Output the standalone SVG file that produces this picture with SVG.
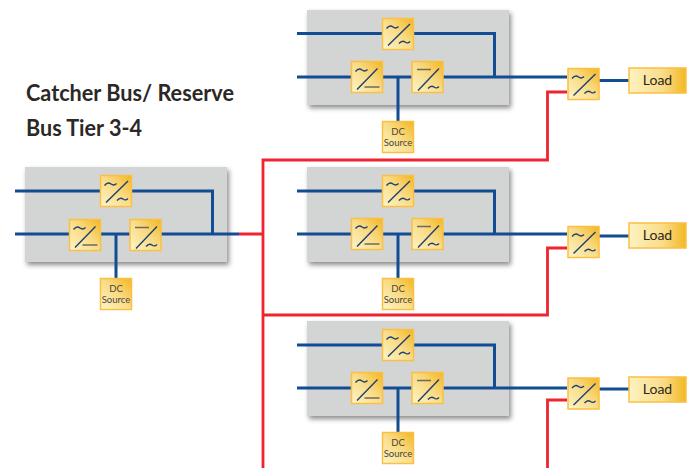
<svg xmlns="http://www.w3.org/2000/svg" xmlns:xlink="http://www.w3.org/1999/xlink" width="695" height="468" viewBox="0 0 695 468">
<style>
.b{fill:none;stroke:#124c92;stroke-width:3}
.r{fill:none;stroke:#ee2430;stroke-width:2.800}
.g{fill:url(#yg);stroke:#fac043;stroke-width:1.500}
.s{fill:none;stroke:#1d3f73;stroke-width:1.400}
.d{fill:none;stroke:#6d6a5c;stroke-width:1.500}
.p{fill:#d3d4d4;filter:url(#sh)}
.t{font-family:Lato,"Liberation Sans",sans-serif;fill:#4a4538}
.dc{font-size:9.500px;text-anchor:middle}
.l{font-size:14px;text-anchor:middle;fill:#2a261c}
.h{font-family:Lato,"Liberation Sans",sans-serif;font-size:22.500px;font-weight:700;fill:#2b2826}
</style>
<defs>
<linearGradient id="yg" x1="0" y1="1" x2="1" y2="0"><stop offset="0" stop-color="#fdf5c8"/><stop offset=".55" stop-color="#f9da82"/><stop offset="1" stop-color="#f3b61f"/></linearGradient>
<linearGradient id="yl" x1="0" y1="0" x2="1" y2="0"><stop offset="0" stop-color="#fdf2c0"/><stop offset=".6" stop-color="#f9dc88"/><stop offset="1" stop-color="#f3b823"/></linearGradient>
<filter id="sh" x="-10%" y="-10%" width="125%" height="130%"><feDropShadow dx="2" dy="3" stdDeviation="2.500" flood-color="#000" flood-opacity=".45"/></filter>
<g id="aa"><rect class="g" width="31" height="31"/><path class="s" d="M5.500 27L27.500 5.500M4 10c2.500-3 4.500-3 6.500-1.500s3.500 1.500 5.500-.5M16.500 25c2.500-3 4-3 6-1.500s3 1.500 5 -.5"/></g>
<g id="ad"><rect class="g" width="31" height="31"/><path class="s" d="M5.500 28L26 7M4 10c2.500-3 4.500-3 6.500-1.500s3.500 1.500 5.500-.5"/><path class="d" d="M13 25.500H28"/></g>
<g id="da"><rect class="g" width="31" height="31"/><path class="s" d="M6 29L27 7M16 27c2.500-3 4-3 6-1.500s3 1.500 5-.5"/><path class="d" d="M5 8H19"/></g>
<g id="dcb"><rect class="g" width="31" height="31"/><text class="t dc" x="15.500" y="13.500">DC</text><text class="t dc" x="15.500" y="24.500">Source</text></g>
<g id="load"><rect width="57" height="25" fill="url(#yl)" stroke="#fac043" stroke-width="1.500"/><text class="t l" x="28.500" y="17">Load</text></g>
</defs>

<rect class="p" x="307" y="10" width="202" height="95"/>
<rect class="p" x="307" y="167" width="202" height="95"/>
<rect class="p" x="307" y="321" width="202" height="95"/>
<rect class="p" x="25" y="167" width="202" height="95"/>

<g id="connectors">
<path class="r" d="M239 234H263M263 468V160H547.500V92H567M263 315H547.500V248H567M547.500 468V400H567"/>
<path class="b" d="M297 33.500H494.500V77M297 77H567M398 77V121M599 80.500H629"/>
<path class="b" d="M297 191H494.500V234M297 234H567M398 234V278M599 236H629"/>
<path class="b" d="M297 345H494.500V388M297 388H567M398 388V432M599 389H629"/>
<path class="b" d="M15 191H212.500V234M15 234H239M116 234V278"/>
</g>

<g id="group1">
<use id="n1a" xlink:href="#aa" x="382.500" y="18.500"/>
<use id="n1b" xlink:href="#ad" x="351.500" y="61.500"/>
<use id="n1c" xlink:href="#da" x="412" y="61.500"/>
<use id="n1d" xlink:href="#dcb" x="382.500" y="121.500"/>
</g>
<g id="group2">
<use xlink:href="#aa" x="382.500" y="175.500"/>
<use xlink:href="#ad" x="351.500" y="218.500"/>
<use xlink:href="#da" x="412" y="218.500"/>
<use xlink:href="#dcb" x="382.500" y="278.500"/>
</g>
<g id="group3">
<use xlink:href="#aa" x="382.500" y="329.500"/>
<use xlink:href="#ad" x="351.500" y="372.500"/>
<use xlink:href="#da" x="412" y="372.500"/>
<use xlink:href="#dcb" x="382.500" y="432.500"/>
</g>
<g id="group4">
<use xlink:href="#aa" x="100.500" y="175.500"/>
<use xlink:href="#ad" x="69.500" y="219.500"/>
<use xlink:href="#da" x="130" y="219.500"/>
<use xlink:href="#dcb" x="100.500" y="278.500"/>
</g>
<g id="out1"><use xlink:href="#aa" x="568" y="68.500"/><use xlink:href="#load" x="629" y="68"/></g>
<g id="out2"><use xlink:href="#aa" x="568" y="226.500"/><use xlink:href="#load" x="629" y="223"/></g>
<g id="out3"><use xlink:href="#aa" x="568" y="378"/><use xlink:href="#load" x="629" y="377"/></g>
<g id="title">
<text class="h" x="26" y="100.500" textLength="208" lengthAdjust="spacingAndGlyphs">Catcher Bus/ Reserve</text>
<text class="h" x="26" y="136" textLength="116" lengthAdjust="spacingAndGlyphs">Bus Tier 3-4</text>
</g>
</svg>
